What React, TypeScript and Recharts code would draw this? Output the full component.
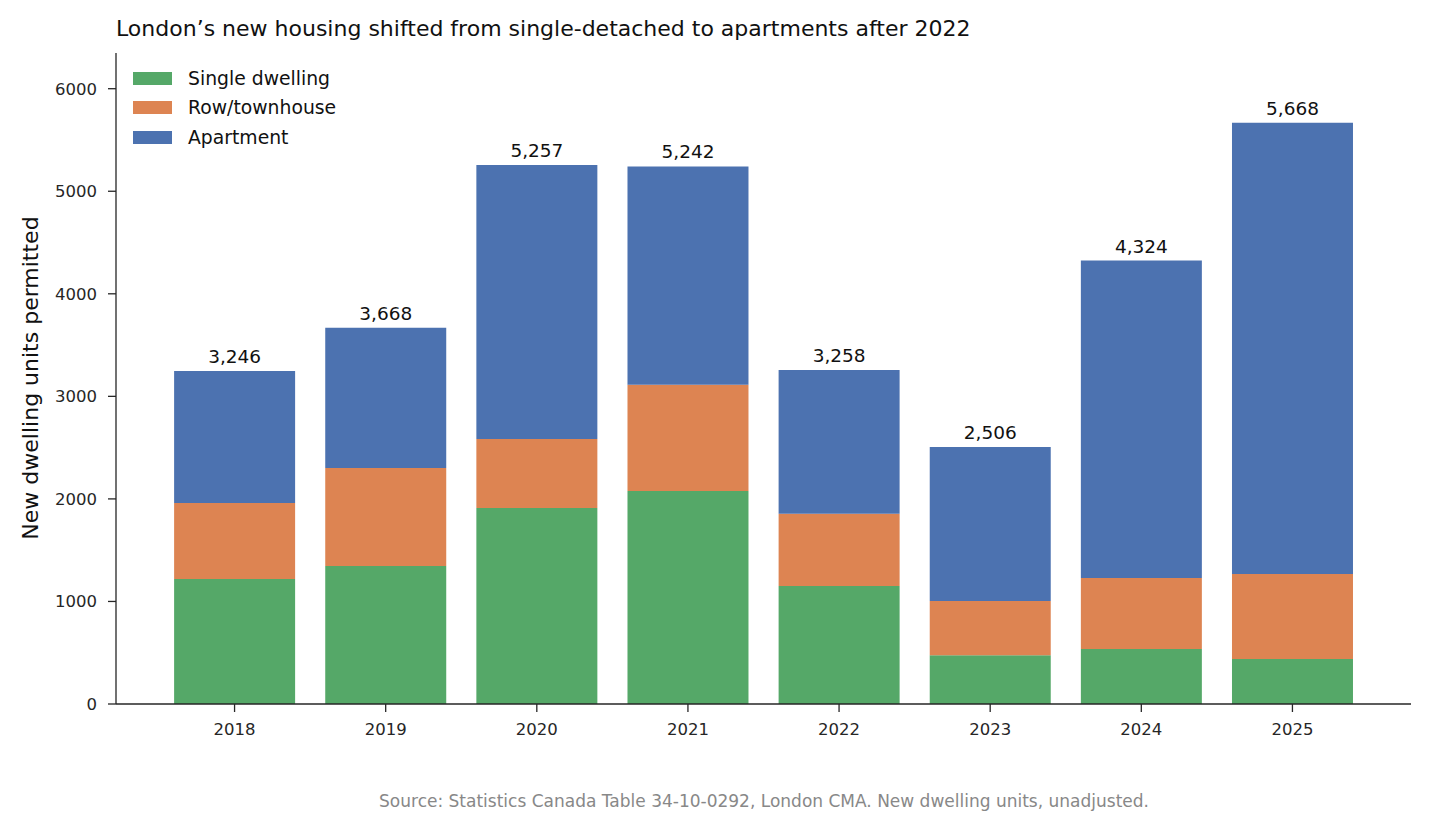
import React from "react";
import { BarChart, Bar, XAxis, YAxis, LabelList } from "recharts";

const years = ["2018", "2019", "2020", "2021", "2022", "2023", "2024", "2025"];
const single = [1220, 1346, 1912, 2078, 1151, 475, 537, 439];
const row = [741, 956, 673, 1034, 703, 530, 692, 829];
const apartment = [1285, 1366, 2672, 2130, 1404, 1501, 3095, 4400];
const yTicks = [0, 1000, 2000, 3000, 4000, 5000, 6000];

const series = [
  { key: "single", name: "Single dwelling", color: "#55A868" },
  { key: "row", name: "Row/townhouse", color: "#DD8452" },
  { key: "apartment", name: "Apartment", color: "#4C72B0" },
];

const data = years.map((year, i) => ({
  year,
  single: single[i],
  row: row[i],
  apartment: apartment[i],
  total: single[i] + row[i] + apartment[i],
}));

const yMax = Math.max(...data.map((d) => d.total)) * 1.12;

const FONT = "'DejaVu Sans', sans-serif";
const INK = "#262626";

// legend box sits in the upper-left corner of the plot
function LegendBox() {
  return (
    <div
      style={{
        position: "absolute",
        left: 133,
        top: 64,
        fontFamily: FONT,
        fontSize: 18.8,
        color: "#111",
      }}
    >
      {series.map((s) => (
        <div key={s.key} style={{ display: "flex", alignItems: "center", height: 29.3 }}>
          <span style={{ width: 39, height: 13, background: s.color, marginRight: 16 }} />
          <span>{s.name}</span>
        </div>
      ))}
    </div>
  );
}

export default function App() {
  return (
    <div style={{ position: "absolute", left: 0, top: 0, width: 1432, height: 832, background: "#fff" }}>
      <BarChart
        width={1432}
        height={832}
        data={data}
        margin={{ top: 53, right: 21, bottom: 0, left: 0 }}
        barCategoryGap="10%"
      >
        <XAxis
          dataKey="year"
          height={128}
          padding={{ left: 43, right: 43 }}
          tickSize={8}
          tickMargin={11}
          stroke={INK}
          strokeWidth={1.3}
          tick={{ fill: INK, fontSize: 16.5, fontFamily: FONT }}
        />
        <YAxis
          width={116}
          domain={[0, yMax]}
          ticks={yTicks}
          allowDataOverflow
          tickSize={8}
          tickMargin={11}
          stroke={INK}
          strokeWidth={1.3}
          tick={{ fill: INK, fontSize: 16.5, fontFamily: FONT }}
        />
        {series.map((s, idx) => (
          <Bar
            key={s.key}
            dataKey={s.key}
            name={s.name}
            stackId="units"
            fill={s.color}
            isAnimationActive={false}
          >
            {idx === series.length - 1 && (
              <LabelList
                dataKey="total"
                position="top"
                offset={8}
                formatter={(v: number) => v.toLocaleString("en-US")}
                style={{ fill: "#111", fontSize: 18.5, fontFamily: FONT }}
              />
            )}
          </Bar>
        ))}
      </BarChart>
      <LegendBox />
      <svg
        width={1432}
        height={832}
        style={{ position: "absolute", left: 0, top: 0, pointerEvents: "none" }}
      >
        <text x={116} y={36} fontFamily={FONT} fontSize={22} fill="#111">
          London’s new housing shifted from single-detached to apartments after 2022
        </text>
        <text
          x={37.5}
          y={378}
          transform="rotate(-90 37.5 378)"
          textAnchor="middle"
          fontFamily={FONT}
          fontSize={22}
          fill="#111"
        >
          New dwelling units permitted
        </text>
        <text x={764} y={807} textAnchor="middle" fontFamily={FONT} fontSize={17} fill="#888">
          Source: Statistics Canada Table 34-10-0292, London CMA. New dwelling units, unadjusted.
        </text>
      </svg>
    </div>
  );
}
